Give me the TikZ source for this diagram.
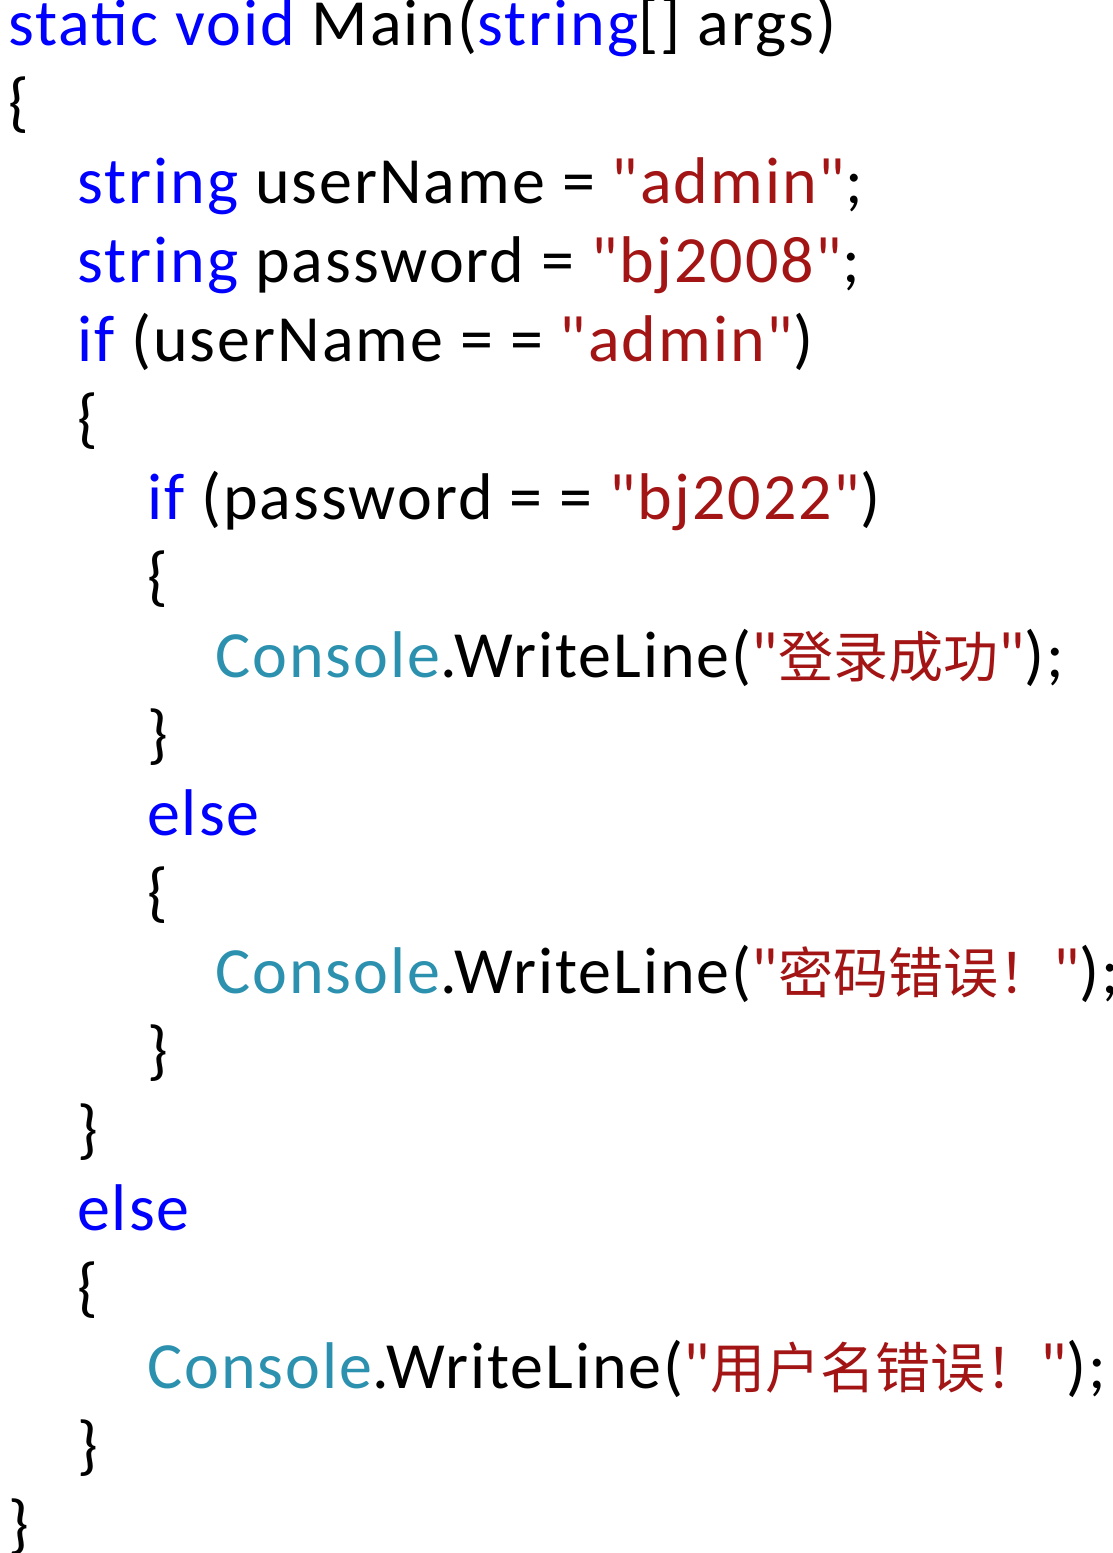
\documentclass[tikz,border=0pt]{standalone}
\usepackage{fontspec}
\setmainfont[Ligatures=TeXOff,LetterSpace=3]{Carlito}
\newfontfamily\cjk{Noto Sans CJK SC}
\definecolor{kw}{RGB}{0,0,255}
\definecolor{st}{RGB}{163,21,21}
\definecolor{ty}{RGB}{43,145,175}
\newcommand{\K}[1]{\textcolor{kw}{#1}}
\newcommand{\Sx}[1]{\textcolor{st}{#1}}
\newcommand{\T}[1]{\textcolor{ty}{#1}}
\newcommand{\C}[1]{{\cjk\fontsize{55}{55}\selectfont #1}}
\begin{document}
\begin{tikzpicture}[x=1pt,y=-1pt,code/.style={anchor=base west,inner sep=0pt,font=\fontsize{66}{68}\selectfont}]
\useasboundingbox (0,0) rectangle (1113,1553);
\clip (0,0) rectangle (1113,1553);
\fill[white] (0,0) rectangle (1113,1553);
\def\L#1{45+79*#1}
\node[code] (l0) at (8,{\L0}) {\K{static void} Main(\K{string}[] args)};
\node[code] (l1) at (8,{\L1}) {\{};
\node[code] (l2) at (77,{\L2}) {\K{string} userName = \Sx{"admin"};};
\node[code] (l3) at (77,{\L3}) {\K{string} password = \Sx{"bj2008"};};
\node[code] (l4) at (77,{\L4}) {\K{if} (userName = = \Sx{"admin"})};
\node[code] (l5) at (77,{\L5}) {\{};
\node[code] (l6) at (147,{\L6}) {\K{if} (password = = \Sx{"bj2022"})};
\node[code] (l7) at (147,{\L7}) {\{};
\node[code] (l8) at (215,{\L8}) {\T{Console}.WriteLine(\Sx{"\C{登录成功}"});};
\node[code] (l9) at (147,{\L9}) {\}};
\node[code] (l10) at (147,{\L{10}}) {\K{else}};
\node[code] (l11) at (147,{\L{11}}) {\{};
\node[code] (l12) at (215,{\L{12}}) {\T{Console}.WriteLine(\Sx{"\C{密码错误！}"});};
\node[code] (l13) at (147,{\L{13}}) {\}};
\node[code] (l14) at (77,{\L{14}}) {\}};
\node[code] (l15) at (77,{\L{15}}) {\K{else}};
\node[code] (l16) at (77,{\L{16}}) {\{};
\node[code] (l17) at (147,{\L{17}}) {\T{Console}.WriteLine(\Sx{"\C{用户名错误！}"});};
\node[code] (l18) at (77,{\L{18}}) {\}};
\node[code] (l19) at (8,{\L{19}}) {\}};
\end{tikzpicture}
\end{document}
